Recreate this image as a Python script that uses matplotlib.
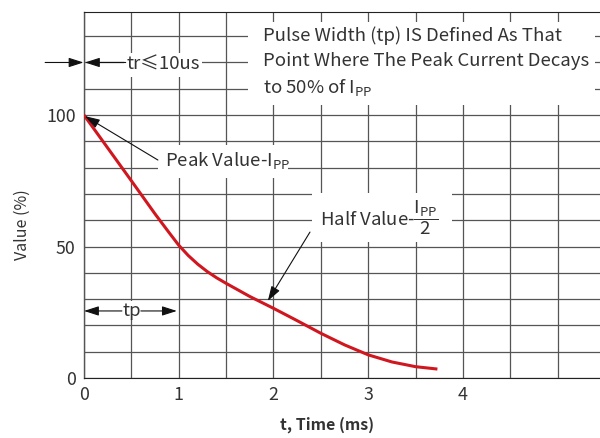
import numpy as np
import matplotlib
matplotlib.use("Agg")
import matplotlib.pyplot as plt
from matplotlib.patches import Rectangle

plt.rcParams['font.family'] = ['Noto Sans CJK SC', 'DejaVu Sans']
plt.rcParams['font.weight'] = 'light'
plt.rcParams['mathtext.fontset'] = 'custom'
plt.rcParams['mathtext.rm'] = 'Noto Sans CJK SC:light'
plt.rcParams['mathtext.it'] = 'Noto Sans CJK SC:light'
plt.rcParams['mathtext.bf'] = 'Noto Sans CJK SC:bold'

# Pulse waveform: time (ms) vs. value (% of peak current)
time_ms = [0, 0.25, 0.5, 0.75, 0.8, 0.9, 1.0, 1.1, 1.2, 1.3, 1.4, 1.5, 1.75,
           2.0, 2.25, 2.5, 2.75, 3.0, 3.25, 3.5, 3.73]
value_pct = [100, 87.5, 75, 62.4, 60.0, 55.2, 50.5, 46.6, 43.3, 40.5, 38.1, 36.0, 31.0,
             26.5, 21.8, 17.0, 12.6, 8.8, 6.1, 4.3, 3.4]

x_ticks = [0, 1, 2, 3, 4]
y_ticks = [0, 50, 100]

TEXT = '#333333'
GRID = '#555555'
INK = '#111111'
FS = 13.4

fig = plt.figure(figsize=(6, 4.38), dpi=100)
ax = fig.add_axes([84 / 600, 60 / 438, 516 / 600, 366 / 438])
ax.set_xlim(0, 5.446)
ax.set_ylim(0, 139.2)

# grid every 0.5 ms and every 10 %
ax.set_xticks(x_ticks)
ax.set_yticks(y_ticks)
ax.set_xticks(np.arange(0, 5.01, 0.5), minor=True)
ax.set_yticks(np.arange(0, 131, 10), minor=True)
ax.grid(True, which='both', color=GRID, lw=0.9)
ax.set_axisbelow(True)
ax.tick_params(which='both', length=0, labelsize=12.8, labelcolor=TEXT)
ax.tick_params(axis='x', pad=6)
ax.tick_params(axis='y', pad=6)

ax.spines['left'].set_color(GRID)
ax.spines['left'].set_linewidth(1.0)
ax.spines['bottom'].set_color('#222222')
ax.spines['top'].set_color('#222222')
ax.spines['right'].set_visible(False)

# waveform
ax.plot(time_ms, value_pct, color='#d0161e', lw=2.2, zorder=3,
        solid_capstyle='butt', solid_joinstyle='round')

# white panels behind the annotations
masks = [
    (1.73, 103.8, 5.39 - 1.73, 135.4 - 103.8),   # definition note
    (0.42, 114.4, 1.245 - 0.42, 123.6 - 114.4),  # rise time
    (0.78, 76.0, 2.15 - 0.78, 88.6 - 76.0),      # peak value
    (2.41, 51.7, 3.88 - 2.41, 70.3 - 51.7),      # half value
    (0.38, 22.4, 0.64 - 0.38, 29.3 - 22.4),      # pulse width
]
for (x0, y0, w, h) in masks:
    ax.add_patch(Rectangle((x0, y0), w, h, facecolor='white', edgecolor='none', zorder=2))

arrow = dict(arrowstyle='-|>,head_length=0.75,head_width=0.24', color=INK,
             lw=0.8, shrinkA=0, shrinkB=0, mutation_scale=12)

# definition note
ax.text(1.89, 120.0,
        'Pulse Width (tp) IS Defined As That\n'
        'Point Where The Peak Current Decays\n'
        r'to 50% of $\mathrm{I}_{\mathrm{PP}}$',
        ha='left', va='center', fontsize=FS, color=TEXT, linespacing=1.47, zorder=5)

# rise time marker
ax.annotate('', xy=(-0.005, 120), xytext=(-0.41, 120), arrowprops=arrow,
            annotation_clip=False, zorder=5)
ax.annotate('', xy=(0.01, 120), xytext=(0.44, 120), arrowprops=arrow, zorder=5)
ax.text(0.835, 119.3, 'tr≤10us', ha='center', va='center', fontsize=FS,
        color=TEXT, zorder=5)

# peak value
ax.annotate('', xy=(0.01, 99.6), xytext=(0.78, 82.9), arrowprops=arrow, zorder=5)
ax.text(0.855, 82.6, r'Peak Value-$\mathrm{I}_{\mathrm{PP}}$', ha='left', va='center',
        fontsize=FS, color=TEXT, zorder=5)

# half value
ax.annotate('', xy=(1.94, 29.3), xytext=(2.385, 55.5), arrowprops=arrow, zorder=5)
ax.text(2.49, 61.0, r'Half Value-$\dfrac{\mathrm{I}_{\mathrm{PP}}}{2}$', ha='left',
        va='center', fontsize=FS, color=TEXT, zorder=5)

# pulse width marker
ax.annotate('', xy=(0.0, 25.5), xytext=(0.4, 25.5), arrowprops=arrow, zorder=5)
ax.annotate('', xy=(0.98, 25.5), xytext=(0.6, 25.5), arrowprops=arrow, zorder=5)
ax.text(0.5, 25.5, 'tp', ha='center', va='center', fontsize=FS, color=TEXT, zorder=5)

fig.text(327 / 600, 1 - 425 / 438, 't, Time (ms)', ha='center', va='center',
         fontsize=11.5, fontweight='bold', color=TEXT)
fig.text(22 / 600, 1 - 225 / 438, 'Value (%)', ha='center', va='center',
         rotation=90, fontsize=11.5, color=TEXT)

fig.savefig('out.png', dpi=100)
